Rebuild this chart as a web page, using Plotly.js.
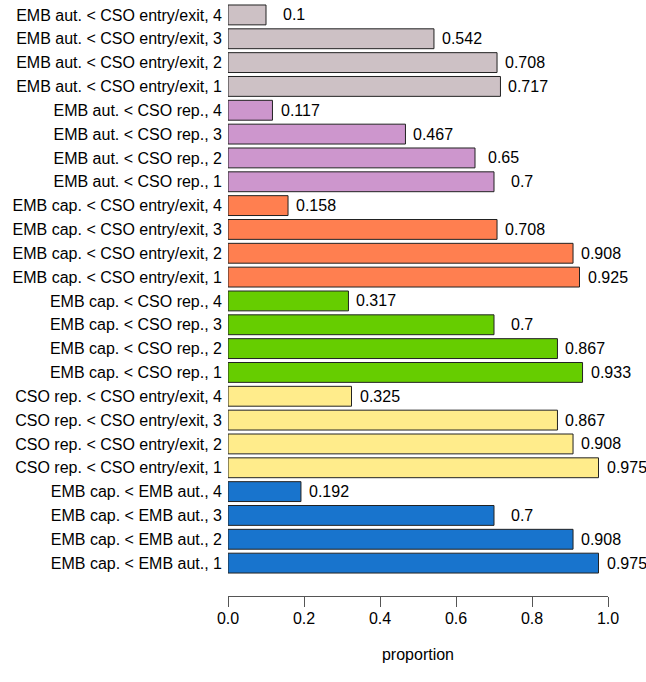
<!DOCTYPE html>
<html>
<head>
<meta charset="utf-8">
<script src="https://cdn.plot.ly/plotly-3.0.1.min.js"></script>
<style>
  html, body { margin: 0; padding: 0; background: #fff; }
  #chart { width: 646px; height: 682px; }
</style>
</head>
<body>
<div id="chart"></div>
<script>
// Pairwise comparisons, listed from the bottom of the chart upwards
const comparisons = [
  "EMB cap. < EMB aut.",
  "CSO rep. < CSO entry/exit",
  "EMB cap. < CSO rep.",
  "EMB cap. < CSO entry/exit",
  "EMB aut. < CSO rep.",
  "EMB aut. < CSO entry/exit"
];
const levels = [1, 2, 3, 4];

// Proportion for each comparison at levels 1..4
const embCapVsEmbAut       = [0.975, 0.908, 0.7, 0.192];
const csoRepVsCsoEntry     = [0.975, 0.908, 0.867, 0.325];
const embCapVsCsoRep       = [0.933, 0.867, 0.7, 0.317];
const embCapVsCsoEntry     = [0.925, 0.908, 0.708, 0.158];
const embAutVsCsoRep       = [0.7, 0.65, 0.467, 0.117];
const embAutVsCsoEntry     = [0.717, 0.708, 0.542, 0.1];

const groupValues = [
  embCapVsEmbAut, csoRepVsCsoEntry, embCapVsCsoRep,
  embCapVsCsoEntry, embAutVsCsoRep, embAutVsCsoEntry
];
const groupColors = ["#1874CD", "#FFEC8B", "#66CD00", "#FF7F50", "#CD96CD", "#CDC1C5"];

const labels = [], values = [], colors = [];
comparisons.forEach((name, g) => {
  levels.forEach((lv, i) => {
    labels.push(name + ", " + lv);
    values.push(groupValues[g][i]);
    colors.push(groupColors[g]);
  });
});

const font = { family: "Liberation Sans, Arial, Helvetica, sans-serif", size: 16, color: "#000" };

const trace = {
  type: "bar",
  orientation: "h",
  x: values,
  y: labels,
  marker: { color: colors, line: { color: "#222", width: 1 } },
  hoverinfo: "x+y"
};

// value labels centred a fixed distance to the right of each bar end
const annotations = values.map((v, i) => ({
  x: v, y: labels[i], xref: "x", yref: "y",
  text: String(v), showarrow: false,
  xanchor: "center", yanchor: "middle", xshift: 28,
  borderpad: 0,
  font: font
}));

const layout = {
  width: 646, height: 682,
  margin: { l: 228, r: 38, t: 3, b: 86 },
  paper_bgcolor: "#fff", plot_bgcolor: "#fff",
  font: font,
  showlegend: false,
  bargap: 1 - 1 / 1.2,
  xaxis: {
    range: [0, 1],
    tickvals: [0, 0.2, 0.4, 0.6, 0.8, 1.0],
    tickformat: ".1f",
    ticks: "outside", ticklen: 10, tickwidth: 1, tickcolor: "#555",
    showline: true, linecolor: "#555", linewidth: 1,
    showgrid: false, zeroline: false, automargin: false,
    ticklabelstandoff: -2,
    title: { text: "proportion", font: font, standoff: 22 }
  },
  yaxis: {
    type: "category",
    categoryorder: "array", categoryarray: labels,
    range: [-1.38, 23.5],
    ticks: "", showline: false, showgrid: false, zeroline: false,
    automargin: false, ticklabelstandoff: 5
  },
  annotations: annotations
};

Plotly.newPlot("chart", [trace], layout, { displayModeBar: false, staticPlot: true });
</script>
</body>
</html>
